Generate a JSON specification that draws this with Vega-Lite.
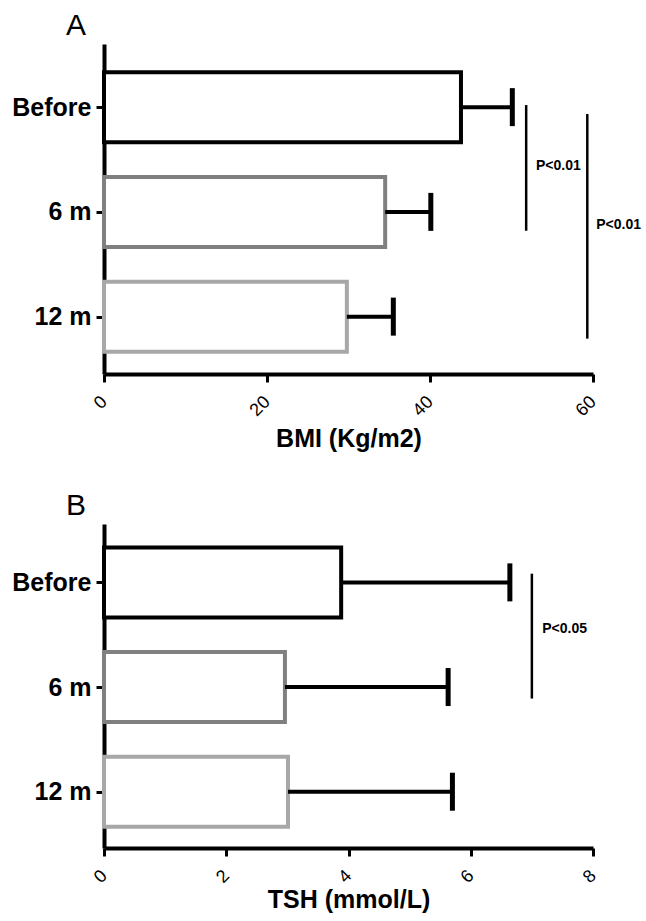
{
  "$schema": "https://vega.github.io/schema/vega-lite/v6.json",
  "background": "white",
  "padding": {"left": 11, "top": 11, "right": 2, "bottom": 2},
  "config": {
    "view": {"stroke": null},
    "font": "Liberation Sans",
    "axis": {"grid": false, "domainColor": "black", "tickColor": "black", "labelColor": "black", "titleColor": "black", "labelFont": "Liberation Sans", "titleFont": "Liberation Sans"}
  },
  "datasets": {
    "bmi": [
      {"group": "Before", "idx": 0, "mean": 43.8, "upper": 50.1},
      {"group": "6 m", "idx": 1, "mean": 34.5, "upper": 40.1},
      {"group": "12 m", "idx": 2, "mean": 29.8, "upper": 35.5}
    ],
    "bmi_sig": [
      {"x": 51.8, "from": -0.02, "to": 1.18, "tx": 53.0, "ty": 0.56, "label": "P<0.01"},
      {"x": 59.3, "from": 0.065, "to": 2.21, "tx": 60.4, "ty": 1.13, "label": "P<0.01"}
    ],
    "tsh": [
      {"group": "Before", "idx": 0, "mean": 3.88, "upper": 6.64},
      {"group": "6 m", "idx": 1, "mean": 2.96, "upper": 5.63},
      {"group": "12 m", "idx": 2, "mean": 3.01, "upper": 5.70}
    ],
    "tsh_sig": [
      {"x": 7.0, "from": -0.083, "to": 1.11, "tx": 7.17, "ty": 0.45, "label": "P<0.05"}
    ]
  },
  "spacing": 39,
  "vconcat": [
    {
      "width": 489,
      "height": 330,
      "title": {"text": "A", "anchor": "start", "frame": "group", "fontSize": 30, "fontWeight": "normal", "font": "Liberation Sans", "color": "black", "dx": -38, "baseline": "alphabetic", "offset": -21},
      "layer": [
        {
          "data": {"name": "bmi"},
          "mark": {"type": "bar", "orient": "horizontal", "size": 70, "fill": "white", "strokeWidth": 4},
          "encoding": {
            "y": {"field": "idx", "type": "quantitative", "scale": {"domain": [-0.555, 2.5], "reverse": true, "nice": false, "zero": false},
              "axis": {"title": null, "values": [0, 1, 2], "labelExpr": "datum.value == 0 ? 'Before' : datum.value == 1 ? '6 m' : '12 m'", "labelFontSize": 25, "labelFontWeight": "bold", "tickSize": 8, "tickWidth": 3, "domainWidth": 4, "labelPadding": 5}},
            "x": {"field": "mean", "type": "quantitative", "scale": {"domain": [0, 60], "nice": false},
              "axis": {"title": "BMI (Kg/m2)", "values": [0, 20, 40, 60], "format": "d", "labelAngle": -45, "labelAlign": "right", "labelBaseline": "middle", "labelFontSize": 18, "tickSize": 8, "tickWidth": 3, "domainWidth": 4, "labelPadding": 17, "titleFontSize": 25, "titleFontWeight": "bold", "titlePadding": 7}},
            "stroke": {"field": "group", "type": "nominal", "scale": {"domain": ["Before", "6 m", "12 m"], "range": ["#000000", "#808080", "#a8a8a8"]}, "legend": null}
          }
        },
        {
          "data": {"name": "bmi"},
          "mark": {"type": "rule", "color": "black", "strokeWidth": 4},
          "encoding": {
            "y": {"field": "idx", "type": "quantitative"},
            "x": {"field": "mean", "type": "quantitative"},
            "x2": {"field": "upper"}
          }
        },
        {
          "data": {"name": "bmi"},
          "mark": {"type": "tick", "orient": "vertical", "color": "black", "size": 38, "thickness": 5, "opacity": 1},
          "encoding": {
            "y": {"field": "idx", "type": "quantitative"},
            "x": {"field": "upper", "type": "quantitative"}
          }
        },
        {
          "data": {"name": "bmi_sig"},
          "mark": {"type": "rule", "color": "black", "strokeWidth": 2.5},
          "encoding": {
            "x": {"field": "x", "type": "quantitative"},
            "y": {"field": "from", "type": "quantitative"},
            "y2": {"field": "to"}
          }
        },
        {
          "data": {"name": "bmi_sig"},
          "mark": {"type": "text", "align": "left", "baseline": "middle", "font": "Liberation Sans", "fontWeight": "bold", "fontSize": 14, "color": "black"},
          "encoding": {
            "x": {"field": "tx", "type": "quantitative"},
            "y": {"field": "ty", "type": "quantitative"},
            "text": {"field": "label"}
          }
        }
      ]
    },
    {
      "width": 489,
      "height": 324,
      "title": {"text": "B", "anchor": "start", "frame": "group", "fontSize": 30, "fontWeight": "normal", "font": "Liberation Sans", "color": "black", "dx": -38, "baseline": "alphabetic", "offset": -21},
      "layer": [
        {
          "data": {"name": "tsh"},
          "mark": {"type": "bar", "orient": "horizontal", "size": 70, "fill": "white", "strokeWidth": 4},
          "encoding": {
            "y": {"field": "idx", "type": "quantitative", "scale": {"domain": [-0.51, 2.49], "reverse": true, "nice": false, "zero": false},
              "axis": {"title": null, "values": [0, 1, 2], "labelExpr": "datum.value == 0 ? 'Before' : datum.value == 1 ? '6 m' : '12 m'", "labelFontSize": 25, "labelFontWeight": "bold", "tickSize": 8, "tickWidth": 3, "domainWidth": 4, "labelPadding": 5}},
            "x": {"field": "mean", "type": "quantitative", "scale": {"domain": [0, 8], "nice": false},
              "axis": {"title": "TSH (mmol/L)", "values": [0, 2, 4, 6, 8], "format": "d", "labelAngle": -45, "labelAlign": "right", "labelBaseline": "middle", "labelFontSize": 18, "tickSize": 8, "tickWidth": 3, "domainWidth": 4, "labelPadding": 17, "titleFontSize": 25, "titleFontWeight": "bold", "titlePadding": 1}},
            "stroke": {"field": "group", "type": "nominal", "scale": {"domain": ["Before", "6 m", "12 m"], "range": ["#000000", "#808080", "#a8a8a8"]}, "legend": null}
          }
        },
        {
          "data": {"name": "tsh"},
          "mark": {"type": "rule", "color": "black", "strokeWidth": 4},
          "encoding": {
            "y": {"field": "idx", "type": "quantitative"},
            "x": {"field": "mean", "type": "quantitative"},
            "x2": {"field": "upper"}
          }
        },
        {
          "data": {"name": "tsh"},
          "mark": {"type": "tick", "orient": "vertical", "color": "black", "size": 38, "thickness": 5, "opacity": 1},
          "encoding": {
            "y": {"field": "idx", "type": "quantitative"},
            "x": {"field": "upper", "type": "quantitative"}
          }
        },
        {
          "data": {"name": "tsh_sig"},
          "mark": {"type": "rule", "color": "black", "strokeWidth": 2.5},
          "encoding": {
            "x": {"field": "x", "type": "quantitative"},
            "y": {"field": "from", "type": "quantitative"},
            "y2": {"field": "to"}
          }
        },
        {
          "data": {"name": "tsh_sig"},
          "mark": {"type": "text", "align": "left", "baseline": "middle", "font": "Liberation Sans", "fontWeight": "bold", "fontSize": 14, "color": "black"},
          "encoding": {
            "x": {"field": "tx", "type": "quantitative"},
            "y": {"field": "ty", "type": "quantitative"},
            "text": {"field": "label"}
          }
        }
      ]
    }
  ]
}
